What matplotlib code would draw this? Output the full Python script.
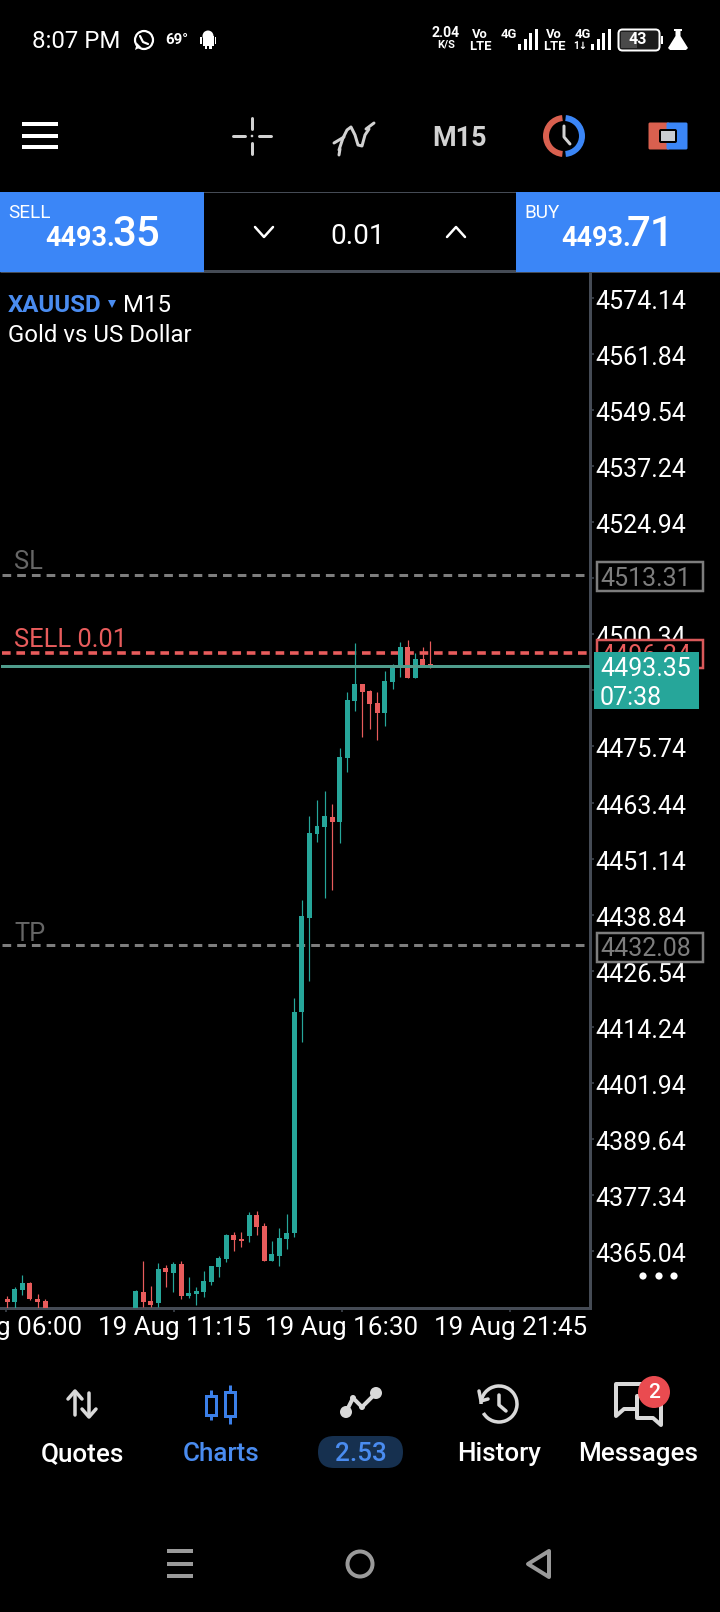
import matplotlib
matplotlib.use("Agg")
import matplotlib.pyplot as plt
from matplotlib.patches import Rectangle, Circle, Arc, FancyBboxPatch, Polygon
from matplotlib.lines import Line2D
from matplotlib.transforms import ScaledTranslation

plt.rcParams['font.family'] = ['Roboto', 'DejaVu Sans']

# ---- data ----
index = [0, 1, 2, 3, 4, 5] + list(range(17, 57))
opens = [4354.51, 4353.85, 4356.48, 4358.02, 4354.51, 4354.07,
         4351.50, 4356.04, 4354.07, 4353.63, 4361.32, 4360.22, 4362.19, 4355.17, 4355.60, 4356.04,
         4358.24, 4361.54, 4363.29, 4368.56, 4367.68, 4368.34, 4372.95, 4370.54, 4362.85, 4363.95,
         4367.68, 4369.00, 4417.48, 4438.11, 4456.54, 4458.08, 4460.27, 4459.17, 4473.21, 4485.72,
         4489.45, 4487.91, 4485.28, 4483.09, 4489.89, 4493.18, 4497.57, 4490.77, 4494.93, 4493.84]
highs = [4355.17, 4357.14, 4359.78, 4358.24, 4355.60, 4354.51,
         4356.48, 4362.85, 4357.36, 4362.41, 4361.97, 4362.63, 4362.85, 4359.34, 4357.14, 4360.66,
         4361.76, 4363.95, 4368.78, 4369.22, 4369.22, 4373.61, 4373.83, 4371.19, 4367.24, 4370.10,
         4373.17, 4420.56, 4442.06, 4460.49, 4464.00, 4465.97, 4463.12, 4475.41, 4487.69, 4498.44,
         4489.45, 4488.13, 4487.69, 4492.30, 4493.84, 4498.66, 4499.10, 4496.25, 4497.57, 4498.88]
lows = [4352.53, 4352.53, 4355.38, 4354.29, 4352.53, 4352.00,
        4351.50, 4352.75, 4352.75, 4352.75, 4357.14, 4356.04, 4354.51, 4354.73, 4353.19, 4354.95,
        4357.58, 4359.34, 4362.63, 4365.05, 4365.92, 4367.02, 4368.56, 4362.85, 4362.85, 4361.76,
        4365.49, 4368.12, 4410.90, 4424.29, 4454.78, 4442.50, 4444.25, 4454.56, 4470.14, 4483.53,
        4477.82, 4479.58, 4477.16, 4480.24, 4488.35, 4490.99, 4490.77, 4490.77, 4493.18, 4492.96]
closes = [4353.85, 4356.70, 4358.02, 4354.51, 4353.85, 4352.00,
          4356.26, 4353.85, 4353.19, 4361.10, 4360.44, 4362.19, 4355.17, 4355.82, 4356.26, 4358.46,
          4361.76, 4363.51, 4368.56, 4367.46, 4367.24, 4372.95, 4370.32, 4362.85, 4364.39, 4367.90,
          4369.00, 4417.48, 4438.55, 4456.76, 4458.30, 4460.49, 4459.17, 4473.43, 4485.94, 4489.45,
          4487.69, 4485.06, 4483.09, 4490.11, 4493.62, 4497.57, 4490.77, 4494.93, 4493.18, 4493.35]

price_ticks = [4574.14, 4561.84, 4549.54, 4537.24, 4524.94, 4512.64, 4500.34, 4488.04, 4475.74,
               4463.44, 4451.14, 4438.84, 4426.54, 4414.24, 4401.94, 4389.64, 4377.34, 4365.04]
time_ticks = [-0.17, 22.07, 44.3, 66.57]
time_labels = ['19 Aug 06:00', '19 Aug 11:15', '19 Aug 16:30', '19 Aug 21:45']
sl_price, tp_price, order_price, bid_price, ask_price = 4513.31, 4432.08, 4496.24, 4493.35, 4493.71
price_range = (4352.55, 4579.84)
index_range = (-0.966, 77.14)

GREEN, RED, BLUE, GREY, AXISC = '#26a69a', '#e85c5c', '#3b86f7', '#7d7d7d', '#454b55'
W, H = 720, 1612
pt = 0.72  # pt per pixel at 100 dpi

fig = plt.figure(figsize=(W / 100, H / 100), dpi=100, facecolor='black')

# ---- the candlestick chart ----
ax = fig.add_axes([0, (H - 1308) / H, 590 / W, (1308 - 272) / H], facecolor='black', zorder=1)
ax.set_xlim(*index_range)
ax.set_ylim(*price_range)
for i, o, h, l, c in zip(index, opens, highs, lows, closes):
    col = GREEN if c >= o else RED
    ax.vlines(i, l, h, color=col, lw=1.2 * pt, zorder=3)
    ax.bar(i, abs(c - o), bottom=min(o, c), width=0.66, color=col, linewidth=0, zorder=4)

ax.axhline(sl_price, color=GREY, lw=3 * pt, dashes=(2.9, 2.0), zorder=2, xmin=0.003)
ax.axhline(tp_price, color=GREY, lw=3 * pt, dashes=(2.9, 2.0), zorder=2, xmin=0.003)
ax.axhline(order_price, color=RED, lw=3.6 * pt, dashes=(2.4, 1.6), zorder=2, xmin=0.003)
ax.axhline(ask_price, color=RED, lw=1 * pt, zorder=5, xmin=0.003)
ax.axhline(bid_price, color='#4f9c8c', lw=3 * pt, zorder=5, xmin=0.003)

for s in ('left', 'top'):
    ax.spines[s].set_visible(False)
for s in ('right', 'bottom'):
    ax.spines[s].set_color(AXISC)
    ax.spines[s].set_linewidth(3 * pt)
ax.yaxis.tick_right()
ax.set_yticks(price_ticks, [f'{p:.2f}' for p in price_ticks])
ax.set_xticks(time_ticks, time_labels)
ax.tick_params(axis='y', length=4 * pt, width=1.5 * pt, color=AXISC, labelcolor='white',
               labelsize=25 * pt, pad=1 * pt)
ax.tick_params(axis='x', length=4 * pt, width=1.5 * pt, color=AXISC, labelcolor='white',
               labelsize=26 * pt, pad=4 * pt)
shift = ScaledTranslation(0, -1.5 / 100, fig.dpi_scale_trans)
for lab in ax.get_yticklabels():
    lab.set_transform(lab.get_transform() + shift)

# ---- the app around it, in pixel coordinates ----
ui = fig.add_axes([0, 0, 1, 1], zorder=5)
ui.set_xlim(0, W)
ui.set_ylim(H, 0)
ui.axis('off')
ui.patch.set_alpha(0)


def txt(x, y, s, px, color='white', ha='left', weight='normal', **kw):
    ui.text(x, y, s, fontsize=px * pt, color=color, ha=ha, va='center', weight=weight, **kw)


def line(xs, ys, color='white', w=3, cap='round', **kw):
    ui.add_line(Line2D(xs, ys, color=color, lw=w * pt, solid_capstyle=cap, **kw))


def rect(x0, y0, x1, y1, fc, ec='none', w=0, z=2):
    ui.add_patch(Rectangle((x0, y0), x1 - x0, y1 - y0, fc=fc, ec=ec, lw=w * pt, zorder=z))


# status bar
txt(32, 42, '8:07 PM', 24)
ui.add_patch(Circle((144, 40), 9, fc='none', ec='white', lw=2.2 * pt))
ui.add_patch(Polygon([(135, 50), (137, 43), (141, 47)], fc='white', ec='none'))
line([140, 143, 148], [36, 42, 44], 'white', 2.2)
txt(165, 40, '69°', 15, weight='bold')
ui.add_patch(Circle((208, 36), 5.5, fc='white', ec='none'))
rect(202.5, 36, 213.5, 46, 'white')
rect(200, 37, 201.5, 44, 'white')
rect(214.5, 37, 216, 44, 'white')
rect(204.5, 45, 207, 49, 'white')
rect(209, 45, 211.5, 49, 'white')
txt(446, 33, '2.04', 14, ha='center', weight='bold')
txt(446, 45, 'K/S', 11, ha='center', weight='bold')
for cx in (480, 554):
    txt(cx, 34, 'Vo', 13, ha='center', weight='bold')
    txt(cx, 46, 'LTE', 13, ha='center', weight='bold')
txt(509, 35, '4G', 13, ha='center', weight='bold')
txt(583, 35, '4G', 13, ha='center', weight='bold')
txt(580, 46, '1↓', 10, ha='center', weight='bold')
for x0 in (518, 591):
    for k, top in enumerate((44, 39, 33, 29)):
        rect(x0 + k * 5.6, top, x0 + k * 5.6 + 3, 49.5, 'white')
ui.add_patch(FancyBboxPatch((620, 31), 38, 18, boxstyle='round,pad=1.5,rounding_size=4',
                            fc='#1c1c1c', ec='white', lw=2 * pt))
rect(621, 32, 637, 48, '#4a4a4a')
txt(638, 40, '43', 16, ha='center', weight='bold')
rect(661, 36, 663, 44, 'white')
ui.add_patch(Polygon([(674, 29), (682, 29), (682, 31), (680.5, 31), (680.5, 36), (688, 48), (686, 50),
                      (670, 50), (668, 48), (675.5, 36), (675.5, 31), (674, 31)], fc='white', ec='none'))

# tool bar
for y in (124, 136, 147):
    line([22, 58], [y, y], w=4, cap='butt')
c = '#d2d2d2'
line([252, 252], [118, 129], c)
line([252, 252], [143, 154], c)
line([233, 245], [136, 136], c)
line([259, 271], [136, 136], c)
ui.add_patch(Circle((252, 136), 1.3, fc=c, ec='none'))
line([339, 343, 347, 351, 355, 358, 362, 365, 369], [150, 138, 130, 127, 135, 145, 146, 135, 129], c)
line([334, 344], [143, 137], c)
line([340, 339], [149, 155], c)
line([366, 374], [129, 123], c)
txt(460, 139, 'M15', 27, color='#d2d2d2', ha='center', weight='bold')
ui.add_patch(Arc((564, 136), 36, 36, theta1=95, theta2=265, color='#d9604f', lw=6 * pt))
ui.add_patch(Arc((564, 136), 36, 36, theta1=-85, theta2=85, color=BLUE, lw=6 * pt))
line([564, 564, 570], [126, 137, 144], '#d2d2d2', 3)
ui.add_patch(FancyBboxPatch((650, 124), 18, 24, boxstyle='round,pad=1.5', fc='#d9604f', ec='none'))
ui.add_patch(FancyBboxPatch((668, 124), 18, 24, boxstyle='round,pad=1.5', fc=BLUE, ec='none', zorder=2))
ui.add_patch(FancyBboxPatch((661, 131), 14, 10, boxstyle='round,pad=1', fc='#c9cdd2', ec='black', lw=2 * pt, zorder=3))

# trade row
rect(204, 191.5, 516, 193, AXISC)
line([0, 720], [271, 271], AXISC, 3, cap='butt')
rect(0, 192, 204, 272, BLUE, z=3)
rect(516, 192, 720, 272, BLUE, z=3)
kw = dict(zorder=4)
txt(8, 213, 'SELL', 19, **kw)
txt(45, 238, '4493.', 27, weight='bold', **kw)
txt(112, 234, '35', 42, weight='medium', **kw)
txt(524, 213, 'BUY', 19, **kw)
txt(561, 238, '4493.', 27, weight='bold', **kw)
txt(627, 234, '71', 42, weight='medium', **kw)
txt(358, 236, '0.01', 28, ha='center')
line([255, 264, 273], [227, 237, 227], 'white', 2.5)
line([447, 456, 465], [237, 227, 237], 'white', 2.5)

# chart captions
txt(8, 306, 'XAUUSD', 24, color='#4a8cf0', weight='bold')
ui.add_patch(Polygon([(108, 300), (116, 300), (112, 308)], fc='#4a8cf0', ec='none'))
txt(123, 306, 'M15', 24)
txt(8, 335, 'Gold vs US Dollar', 24)
txt(14, 562, 'SL', 25.5, color='#666666')
txt(14, 934, 'TP', 25.5, color='#666666')
txt(14, 640, 'SELL 0.01', 25.5, color=RED)

# price flags
for y0, y1, s in ((562, 591, f'{sl_price:.2f}'), (933, 962, f'{tp_price:.2f}')):
    rect(596.5, y0, 703, y1, 'black', GREY, 2.5)
    txt(600, (y0 + y1) / 2 + 2, s, 25, color=GREY, zorder=3)
rect(596.5, 640, 703, 668, 'black', '#d9595a', 2.5)
txt(600, 656, f'{order_price:.2f}', 25, color=RED, zorder=3)
rect(594, 652, 699, 709, GREEN, z=4)
txt(600, 669, f'{bid_price:.2f}', 25, zorder=5)
txt(600, 698, '07:38', 25, zorder=5)
for x in (643, 659, 674):
    ui.add_patch(Circle((x, 1276), 3.6, fc='white', ec='none'))

# bottom tabs
c = '#d9d9d9'
txt(82, 1454, 'Quotes', 26, weight='medium', ha='center')
txt(221, 1454, 'Charts', 26, color='#4a8cf0', weight='medium', ha='center')
txt(499, 1454, 'History', 26, weight='medium', ha='center')
txt(638, 1454, 'Messages', 26, weight='medium', ha='center')
ui.add_patch(FancyBboxPatch((318, 1436), 85, 32, boxstyle='round,pad=0,rounding_size=16',
                            fc='#16304f', ec='none'))
txt(360.5, 1454, '2.53', 26, color='#4a8cf0', ha='center', weight='medium', zorder=3)
line([75, 75], [1392, 1415], c, 3.5)
line([68, 75, 82], [1399, 1391, 1399], c, 3.5)
line([89, 89], [1393, 1416], c, 3.5)
line([82, 89, 96], [1409, 1417, 1409], c, 3.5)
b = '#3b7fe8'
for x, y0, y1, w0, w1 in ((211, 1390, 1420, 1396, 1415), (230, 1385, 1424, 1392, 1416)):
    line([x, x], [y0, y1], b, 3, cap='butt')
    rect(x - 5, w0, x + 5, w1, 'black', b, 3)
ui.add_line(Line2D([346, 353, 362, 376], [1412, 1398, 1407, 1393], color=c, lw=4 * pt))
for x, y, r in ((346, 1412, 6), (376, 1393, 6), (353, 1398, 3), (362, 1407, 3)):
    ui.add_patch(Circle((x, y), r, fc=c, ec='none', zorder=3))
ui.add_patch(Arc((499, 1404), 36, 36, theta1=-180, theta2=150, color=c, lw=3.5 * pt))
line([479, 481, 488], [1391, 1401, 1399], c, 3.5)
line([499, 499, 506], [1395, 1405, 1411], c, 3.5)
ui.add_patch(Polygon([(616, 1384), (644, 1384), (644, 1409), (624, 1409), (616, 1416)], fc='none', ec=c, lw=4 * pt, joinstyle='round'))
ui.add_patch(Polygon([(637, 1396), (661, 1396), (661, 1425), (653, 1418), (637, 1418)], fc='black', ec=c, lw=4 * pt, joinstyle='round', zorder=3))
ui.add_patch(Circle((654, 1392), 16, fc='#ea4b50', ec='none', zorder=4))
txt(654, 1392, '2', 21, ha='center', weight='medium', zorder=5)

# navigation bar
c = '#9a9a9a'
for y in (1551, 1564, 1576):
    line([167, 193], [y, y], c, 4, cap='butt')
ui.add_patch(Circle((360, 1564), 12.5, fc='none', ec=c, lw=4 * pt))
ui.add_patch(Polygon([(549, 1551), (549, 1577), (528, 1564)], fc='none', ec=c, lw=4 * pt, joinstyle='round'))

fig.savefig('out.png', dpi=100, facecolor='black')
